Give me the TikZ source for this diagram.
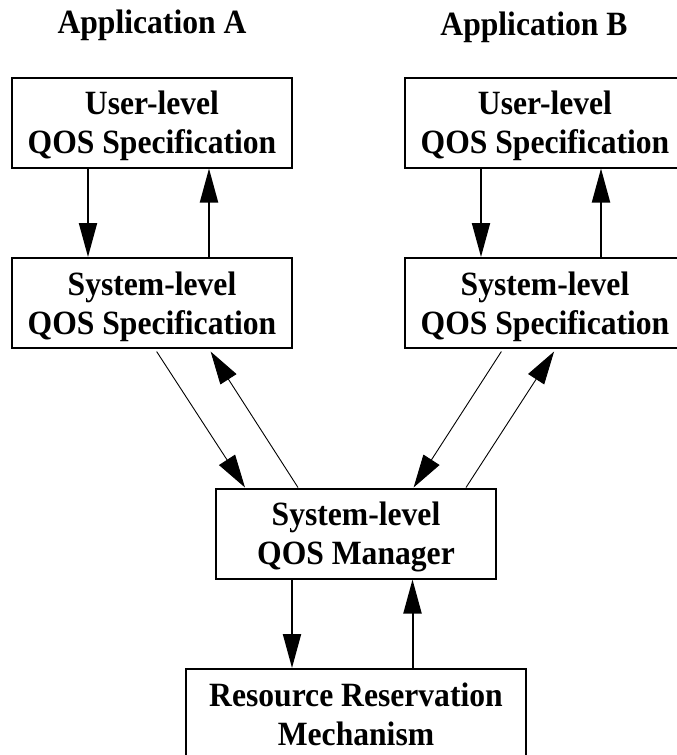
\documentclass[tikz,border=0pt]{standalone}
\usepackage{fontspec}
\setmainfont{Liberation Serif}[FakeStretch=0.93]
\usetikzlibrary{arrows.meta}

\begin{document}
\begin{tikzpicture}[x=1pt,y=-1pt,
  label font/.style={font=\bfseries\fontsize{34}{39}\selectfont},
  box/.style={draw, line width=2pt, minimum width=280pt, minimum height=90pt,
    inner sep=0pt, align=center, text depth=0pt, label font},
  title/.style={label font, anchor=base},
  flow/.style={line width=2pt, -{Triangle[length=34pt,width=18pt]}},
  slant/.style={line width=0.9pt, -{Triangle[length=33pt,width=19pt]}}
]
\useasboundingbox (0,0) rectangle (677,755);
\clip (0,0) rectangle (677,755);

% application headings
\node[title] (appA) at (152,33) {Application A};
\node[title] (appB) at (534,35) {Application B};

% specification boxes
\node[box] (uA) at (152,122.5) {User-level\\QOS Specification};
\node[box] (uB) at (545,122.5) {User-level\\QOS Specification};
\node[box] (sA) at (152,303) {System-level\\QOS Specification};
\node[box] (sB) at (545,303) {System-level\\QOS Specification};

% manager and reservation
\node[box] (mgr) at (356,533.5) {System-level\\QOS Manager};
\node[box, minimum width=340pt] (res) at (356,714) {Resource Reservation\\Mechanism};

% user <-> system level
\draw[flow] ([xshift=-64pt]uA.south) -- ([xshift=-64pt]sA.north);
\draw[flow] ([xshift=57pt]sA.north) -- ([xshift=57pt]uA.south);
\draw[flow] ([xshift=-64pt]uB.south) -- ([xshift=-64pt]sB.north);
\draw[flow] ([xshift=56pt]sB.north) -- ([xshift=56pt]uB.south);

% system level <-> manager
\draw[slant, shorten <=3pt] ([xshift=3pt]sA.south) -- ([xshift=-111pt]mgr.north);
\draw[slant, shorten >=3pt] ([xshift=-58pt]mgr.north) -- ([xshift=57pt]sA.south);
\draw[slant, shorten <=3pt] ([xshift=-42pt]sB.south) -- ([xshift=57.6pt]mgr.north);
\draw[slant, shorten >=3pt] ([xshift=110pt]mgr.north) -- ([xshift=10.7pt]sB.south);

% manager <-> reservation
\draw[flow] ([xshift=-64pt]mgr.south) -- ([xshift=-64pt]res.north);
\draw[flow] ([xshift=56.5pt]res.north) -- ([xshift=56.5pt]mgr.south);
\end{tikzpicture}
\end{document}
